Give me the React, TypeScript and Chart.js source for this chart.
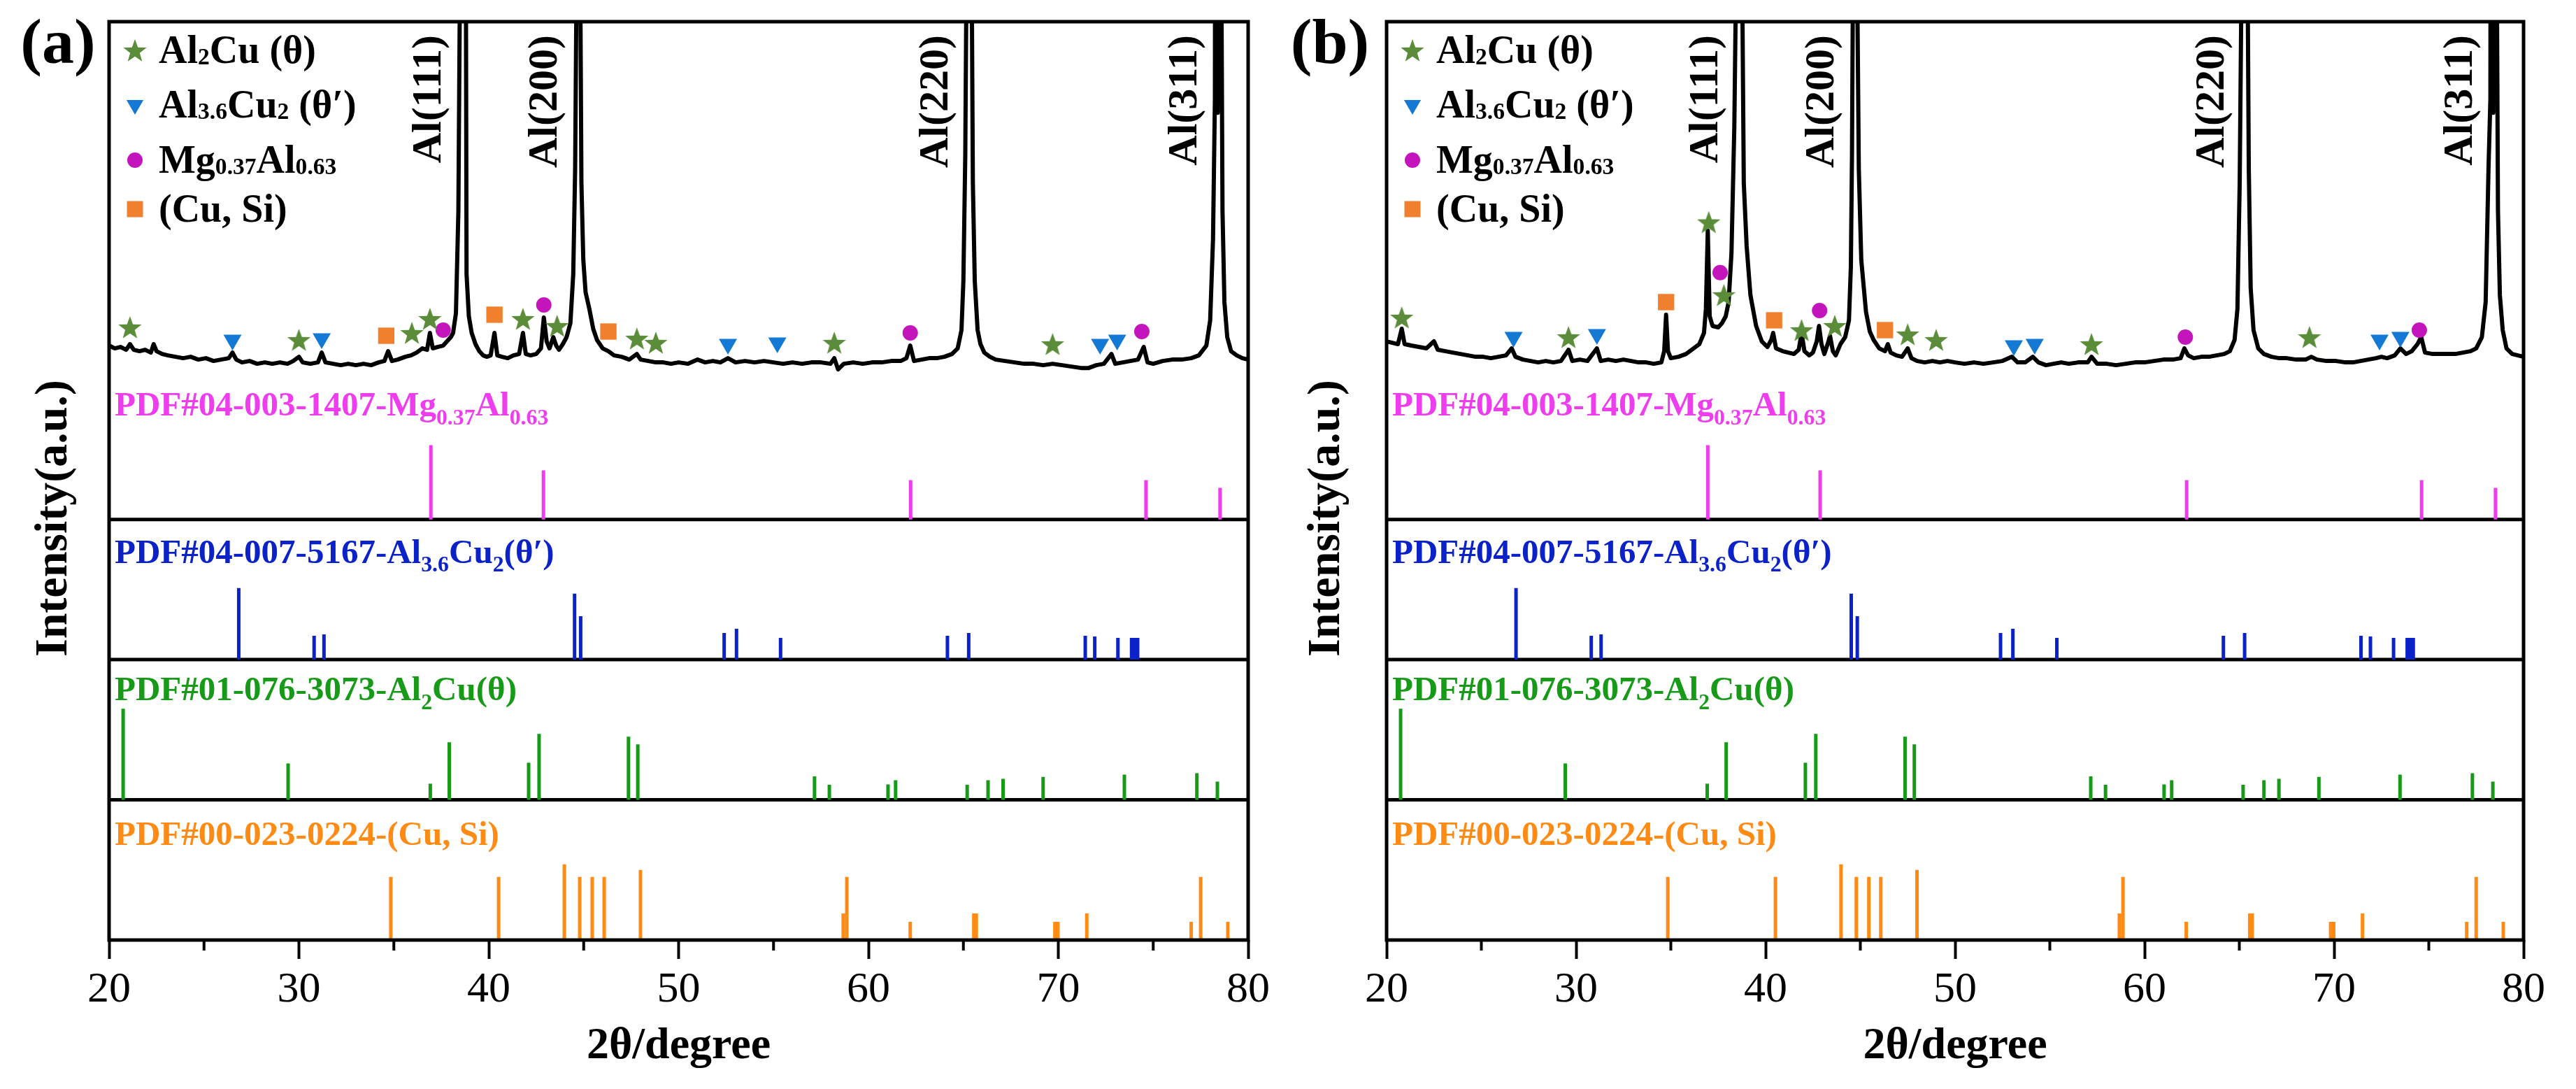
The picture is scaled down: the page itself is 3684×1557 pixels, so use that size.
import React, { useEffect, useRef } from 'react';
import { Chart, registerables } from 'chart.js';

Chart.register(...registerables);

// ---------------- data ----------------
type Pt = [number, number];
type Seg = { t: string; sub?: boolean };

const TWO_THETA_MIN = 20;
const TWO_THETA_MAX = 80;
const MAJOR_STEP = 10;
const MINOR_TICKS = [25, 35, 45, 55, 65, 75];

const AL_PEAKS = [38.62, 44.72, 65.3, 78.42];
const AL_PEAK_LABELS = ['Al(111)', 'Al(200)', 'Al(220)', 'Al(311)'];

// measured pattern (a): [2θ, intensity a.u.]
const XRD_A: Pt[] = [
  [20.0, 1.24], [20.3, 1.22], [20.6, 1.23], [20.9, 1.21], [21.1, 1.25], [21.3, 1.21], [21.6, 1.2], [21.9, 1.21],
  [22.2, 1.19], [22.35, 1.25], [22.5, 1.2], [22.8, 1.18], [23.1, 1.17], [23.5, 1.16], [23.9, 1.15], [24.3, 1.16],
  [24.7, 1.14], [25.1, 1.15], [25.5, 1.13], [25.9, 1.14], [26.3, 1.15], [26.5, 1.19], [26.7, 1.14], [27.0, 1.12],
  [27.4, 1.13], [27.8, 1.11], [28.2, 1.12], [28.6, 1.11], [29.0, 1.12], [29.4, 1.11], [29.7, 1.13], [30.0, 1.16],
  [30.2, 1.12], [30.6, 1.11], [31.0, 1.12], [31.2, 1.19], [31.4, 1.12], [31.8, 1.11], [32.2, 1.1], [32.6, 1.11],
  [33.0, 1.1], [33.4, 1.11], [33.8, 1.1], [34.2, 1.12], [34.5, 1.13], [34.7, 1.2], [34.9, 1.13], [35.2, 1.14],
  [35.6, 1.16], [35.9, 1.17], [36.2, 1.19], [36.5, 1.22], [36.75, 1.21], [36.9, 1.33], [37.05, 1.22], [37.3, 1.23],
  [37.6, 1.24], [37.8, 1.27], [38.0, 1.3], [38.12, 1.33], [38.27, 1.47], [38.4, 2.2], [38.47, 3.6], [38.55, 9.0],
  [38.72, 9.0], [38.8, 3.6], [38.83, 1.75], [38.95, 1.45], [39.1, 1.33], [39.3, 1.25], [39.5, 1.2], [39.7, 1.17],
  [39.9, 1.16], [40.1, 1.17], [40.3, 1.33], [40.45, 1.17], [40.7, 1.16], [41.0, 1.15], [41.3, 1.17], [41.6, 1.18],
  [41.8, 1.33], [41.95, 1.18], [42.2, 1.17], [42.5, 1.18], [42.75, 1.22], [42.9, 1.44], [43.05, 1.27], [43.2, 1.22],
  [43.4, 1.3], [43.55, 1.24], [43.7, 1.21], [43.9, 1.25], [44.1, 1.3], [44.3, 1.4], [44.45, 1.75], [44.55, 2.5],
  [44.61, 3.6], [44.66, 9.0], [44.78, 9.0], [44.83, 3.6], [44.88, 2.4], [44.98, 1.85], [45.1, 1.62], [45.3, 1.5],
  [45.5, 1.36], [45.7, 1.28], [46.0, 1.22], [46.3, 1.2], [46.6, 1.17], [47.0, 1.16], [47.4, 1.14], [47.8, 1.18],
  [48.0, 1.14], [48.4, 1.13], [48.8, 1.12], [49.2, 1.12], [49.6, 1.11], [50.0, 1.12], [50.5, 1.11], [51.0, 1.14],
  [51.4, 1.12], [51.8, 1.13], [52.2, 1.12], [52.6, 1.15], [53.0, 1.12], [53.5, 1.13], [54.0, 1.12], [54.5, 1.13],
  [55.0, 1.12], [55.5, 1.11], [56.0, 1.12], [56.5, 1.11], [57.0, 1.12], [57.5, 1.12], [58.0, 1.11], [58.2, 1.15],
  [58.4, 1.07], [58.7, 1.11], [59.2, 1.12], [59.7, 1.11], [60.2, 1.12], [60.7, 1.12], [61.2, 1.13], [61.7, 1.13],
  [62.0, 1.15], [62.2, 1.24], [62.4, 1.13], [62.8, 1.14], [63.2, 1.15], [63.6, 1.15], [64.0, 1.16], [64.4, 1.18],
  [64.7, 1.22], [64.9, 1.35], [65.0, 1.7], [65.1, 2.6], [65.15, 3.6], [65.2, 9.0], [65.4, 9.0], [65.45, 3.6],
  [65.5, 2.4], [65.6, 1.7], [65.75, 1.35], [65.9, 1.25], [66.1, 1.19], [66.4, 1.16], [66.7, 1.14], [67.2, 1.13],
  [67.7, 1.12], [68.2, 1.11], [68.7, 1.11], [69.2, 1.1], [69.7, 1.11], [70.2, 1.1], [70.7, 1.09], [71.2, 1.08],
  [71.6, 1.08], [72.0, 1.1], [72.4, 1.11], [72.8, 1.18], [73.0, 1.11], [73.4, 1.12], [73.8, 1.13], [74.2, 1.14],
  [74.5, 1.23], [74.7, 1.12], [75.0, 1.11], [75.5, 1.13], [76.0, 1.14], [76.5, 1.14], [77.0, 1.15], [77.4, 1.17],
  [77.8, 1.24], [78.0, 1.42], [78.15, 2.0], [78.25, 3.0], [78.3, 9.0], [78.4, 2.9], [78.5, 9.0], [78.6, 3.6],
  [78.65, 2.2], [78.75, 1.55], [78.9, 1.3], [79.1, 1.2], [79.4, 1.17], [79.7, 1.15], [80.0, 1.14],
];

// measured pattern (b)
const XRD_B: Pt[] = [
  [20.0, 1.27], [20.3, 1.26], [20.6, 1.25], [20.8, 1.36], [20.95, 1.25], [21.3, 1.24], [21.7, 1.23], [22.1, 1.22],
  [22.5, 1.27], [22.7, 1.21], [23.1, 1.2], [23.5, 1.19], [23.9, 1.18], [24.3, 1.17], [24.7, 1.16], [25.1, 1.16],
  [25.5, 1.15], [25.9, 1.16], [26.3, 1.17], [26.6, 1.22], [26.8, 1.16], [27.2, 1.14], [27.6, 1.13], [28.0, 1.12],
  [28.4, 1.13], [28.8, 1.12], [29.2, 1.13], [29.6, 1.21], [29.8, 1.13], [30.2, 1.14], [30.6, 1.13], [31.1, 1.22],
  [31.3, 1.13], [31.7, 1.14], [32.1, 1.13], [32.5, 1.14], [32.9, 1.13], [33.3, 1.12], [33.7, 1.12], [34.1, 1.11],
  [34.5, 1.12], [34.65, 1.2], [34.75, 1.46], [34.85, 1.2], [35.0, 1.15], [35.4, 1.16], [35.8, 1.18], [36.2, 1.22],
  [36.5, 1.25], [36.75, 1.33], [36.85, 1.5], [36.95, 2.06], [37.05, 1.45], [37.2, 1.38], [37.5, 1.37], [37.7, 1.4],
  [37.9, 1.45], [38.05, 1.55], [38.2, 1.9], [38.35, 2.8], [38.42, 3.6], [38.5, 9.0], [38.7, 9.0], [38.78, 3.6],
  [38.85, 2.4], [39.0, 1.95], [39.2, 1.6], [39.5, 1.38], [39.8, 1.27], [40.1, 1.23], [40.3, 1.28], [40.4, 1.33],
  [40.55, 1.22], [40.9, 1.2], [41.2, 1.19], [41.5, 1.18], [41.75, 1.21], [41.9, 1.33], [42.05, 1.2], [42.3, 1.17],
  [42.5, 1.19], [42.7, 1.27], [42.82, 1.38], [42.95, 1.25], [43.1, 1.18], [43.3, 1.26], [43.4, 1.31], [43.55, 1.2],
  [43.7, 1.17], [43.95, 1.25], [44.2, 1.3], [44.4, 1.42], [44.5, 1.8], [44.56, 2.6], [44.6, 3.6], [44.66, 9.0],
  [44.8, 9.0], [44.85, 3.6], [44.92, 2.5], [45.05, 1.85], [45.3, 1.48], [45.5, 1.34], [45.7, 1.28], [46.0, 1.22],
  [46.3, 1.2], [46.45, 1.25], [46.6, 1.19], [46.9, 1.17], [47.2, 1.16], [47.5, 1.22], [47.7, 1.15], [48.0, 1.13],
  [48.4, 1.12], [48.8, 1.13], [49.2, 1.12], [49.6, 1.13], [50.0, 1.12], [50.5, 1.11], [51.0, 1.12], [51.5, 1.11],
  [52.0, 1.12], [52.5, 1.13], [53.0, 1.16], [53.3, 1.12], [53.7, 1.12], [54.1, 1.16], [54.4, 1.12], [54.8, 1.1],
  [55.2, 1.11], [55.6, 1.12], [56.0, 1.11], [56.5, 1.12], [57.0, 1.12], [57.2, 1.16], [57.5, 1.11], [58.0, 1.11],
  [58.5, 1.1], [59.0, 1.11], [59.5, 1.12], [60.0, 1.12], [60.5, 1.13], [61.0, 1.14], [61.5, 1.14], [61.9, 1.15],
  [62.1, 1.22], [62.3, 1.17], [62.6, 1.15], [63.0, 1.16], [63.4, 1.16], [63.8, 1.17], [64.2, 1.18], [64.5, 1.2],
  [64.75, 1.28], [64.9, 1.5], [65.02, 2.4], [65.1, 3.6], [65.16, 9.0], [65.38, 9.0], [65.45, 3.6], [65.5, 2.5],
  [65.6, 1.65], [65.75, 1.35], [66.0, 1.22], [66.3, 1.18], [66.7, 1.16], [67.1, 1.15], [67.5, 1.15], [68.0, 1.14],
  [68.5, 1.14], [68.8, 1.16], [69.1, 1.14], [69.6, 1.13], [70.1, 1.13], [70.6, 1.12], [71.0, 1.12], [71.4, 1.13],
  [71.8, 1.14], [72.2, 1.15], [72.5, 1.16], [72.8, 1.15], [73.2, 1.17], [73.5, 1.22], [73.8, 1.18], [74.1, 1.2],
  [74.4, 1.25], [74.6, 1.3], [74.8, 1.19], [75.2, 1.18], [75.6, 1.18], [76.0, 1.18], [76.4, 1.18], [76.8, 1.19],
  [77.2, 1.2], [77.5, 1.22], [77.8, 1.3], [78.0, 1.55], [78.15, 2.5], [78.25, 3.0], [78.3, 9.0], [78.4, 2.9],
  [78.5, 9.0], [78.6, 3.6], [78.65, 2.2], [78.75, 1.6], [78.9, 1.35], [79.1, 1.22], [79.4, 1.18], [79.7, 1.17],
  [80.0, 1.16],
];

// phase markers on the measured patterns: [2θ, intensity a.u.]
const STAR_A: Pt[] = [[21.1, 1.37], [30.0, 1.28], [35.95, 1.33], [36.9, 1.43], [41.8, 1.43], [43.6, 1.38], [47.8, 1.29], [48.8, 1.26], [58.2, 1.26], [69.7, 1.25]];
const TRI_A: Pt[] = [[26.5, 1.28], [31.2, 1.29], [52.6, 1.25], [55.2, 1.26], [72.2, 1.25], [73.1, 1.28]];
const CIRC_A: Pt[] = [[37.6, 1.35], [42.9, 1.53], [62.2, 1.33], [74.4, 1.34]];
const SQ_A: Pt[] = [[34.6, 1.31], [40.3, 1.46], [46.3, 1.34]];

const STAR_B: Pt[] = [[20.8, 1.44], [29.6, 1.3], [37.0, 2.12], [37.8, 1.6], [41.9, 1.35], [43.65, 1.38], [47.5, 1.32], [49.0, 1.28], [57.2, 1.25], [68.7, 1.3]];
const TRI_B: Pt[] = [[26.7, 1.3], [31.1, 1.32], [53.1, 1.24], [54.2, 1.25], [72.4, 1.28], [73.5, 1.3]];
const CIRC_B: Pt[] = [[37.6, 1.76], [42.85, 1.49], [62.15, 1.3], [74.5, 1.35]];
const SQ_B: Pt[] = [[34.75, 1.55], [40.45, 1.42], [46.3, 1.35]];

// reference cards (stick patterns), relative intensity
const MGAL_2THETA = [36.95, 42.88, 62.22, 74.62, 78.52];
const MGAL_INT = [0.53, 0.35, 0.28, 0.28, 0.225];

const AL36CU2_2THETA = [26.83, 30.8, 31.32, 44.52, 44.84, 52.4, 53.05, 55.37, 64.16, 65.28, 71.42, 71.92, 73.14, 73.86, 74.02, 74.18];
const AL36CU2_INT = [0.51, 0.17, 0.18, 0.47, 0.31, 0.19, 0.22, 0.155, 0.17, 0.19, 0.17, 0.165, 0.155, 0.155, 0.155, 0.155];

const AL2CU_2THETA = [20.74, 29.43, 36.92, 37.92, 42.1, 42.65, 47.36, 47.85, 57.16, 57.94, 61.03, 61.43, 65.2, 66.3, 67.09, 69.2, 73.48, 77.3, 78.38];
const AL2CU_INT = [0.65, 0.26, 0.115, 0.41, 0.265, 0.47, 0.45, 0.395, 0.167, 0.107, 0.11, 0.14, 0.107, 0.14, 0.15, 0.163, 0.18, 0.19, 0.13];

const CUSI_2THETA = [34.84, 40.52, 43.98, 44.79, 45.45, 46.08, 47.99, 58.67, 58.86, 62.2, 65.55, 65.68, 69.82, 69.98, 71.5, 77.0, 77.5, 78.93];
const CUSI_INT = [0.45, 0.45, 0.54, 0.45, 0.45, 0.45, 0.5, 0.19, 0.45, 0.13, 0.19, 0.19, 0.13, 0.13, 0.19, 0.13, 0.45, 0.13];

// ---------------- layout / style ----------------
const H = 1557;
const PLOT_TOP = 31;
const PLOT_BOTTOM = 1344;
const Y_MAX = 6.55;
const XRD_OFFSET = 3;
const BAND_EDGES = [1, 2, 3];
const FAMILY = '"Liberation Serif", "Times New Roman", serif';

const STAR_COLOR = '#5b8c3a';
const TRI_COLOR = '#1479d4';
const CIRC_COLOR = '#c414bc';
const SQ_COLOR = '#f0802e';

const MG_COLOR = '#ee3cee';
const BLUE_COLOR = '#0b22c8';
const GREEN_COLOR = '#169a18';
const ORANGE_COLOR = '#ff8a14';

type PanelCfg = {
  left: number; width: number; plotLeft: number; plotRight: number;
  letter: string; letterDX: number; yTitleDX: number;
  xrd: Pt[]; star: Pt[]; tri: Pt[]; circ: Pt[]; sq: Pt[];
};

const PANELS: PanelCfg[] = [
  { left: 0, width: 1827, plotLeft: 156, plotRight: 1785, letter: '(a)', letterDX: -73, yTitleDX: -78,
    xrd: XRD_A, star: STAR_A, tri: TRI_A, circ: CIRC_A, sq: SQ_A },
  { left: 1827, width: 1857, plotLeft: 156, plotRight: 1782, letter: '(b)', letterDX: -81, yTitleDX: -85,
    xrd: XRD_B, star: STAR_B, tri: TRI_B, circ: CIRC_B, sq: SQ_B },
];

const LEGEND: { kind: string; segs: Seg[] }[] = [
  { kind: 'star', segs: [{ t: 'Al' }, { t: '2', sub: true }, { t: 'Cu (θ)' }] },
  { kind: 'tri', segs: [{ t: 'Al' }, { t: '3.6', sub: true }, { t: 'Cu' }, { t: '2', sub: true }, { t: ' (θ′)' }] },
  { kind: 'circ', segs: [{ t: 'Mg' }, { t: '0.37', sub: true }, { t: 'Al' }, { t: '0.63', sub: true }] },
  { kind: 'sq', segs: [{ t: '(Cu, Si)' }] },
];
const LEGEND_ROWS = [41, 119, 198, 268];

const CARD_LABELS: { segs: Seg[]; color: string; yCenter: number }[] = [
  { segs: [{ t: 'PDF#04-003-1407-Mg' }, { t: '0.37', sub: true }, { t: 'Al' }, { t: '0.63', sub: true }], color: MG_COLOR, yCenter: 3.82 },
  { segs: [{ t: 'PDF#04-007-5167-Al' }, { t: '3.6', sub: true }, { t: 'Cu' }, { t: '2', sub: true }, { t: '(θ′)' }], color: BLUE_COLOR, yCenter: 2.77 },
  { segs: [{ t: 'PDF#01-076-3073-Al' }, { t: '2', sub: true }, { t: 'Cu(θ)' }], color: GREEN_COLOR, yCenter: 1.79 },
  { segs: [{ t: 'PDF#00-023-0224-(Cu, Si)' }], color: ORANGE_COLOR, yCenter: 0.76 },
];

let starImg: HTMLCanvasElement | null = null;
function getStar(): HTMLCanvasElement {
  if (starImg) return starImg;
  const size = 36;
  const c = document.createElement('canvas');
  c.width = size; c.height = size;
  const g = c.getContext('2d')!;
  const R = 17.5, r = 7.2, cx = size / 2, cy = size / 2 + 1.5;
  g.beginPath();
  for (let i = 0; i < 10; i++) {
    const a = -Math.PI / 2 + (i * Math.PI) / 5;
    const rad = i % 2 === 0 ? R : r;
    g.lineTo(cx + rad * Math.cos(a), cy + rad * Math.sin(a));
  }
  g.closePath();
  g.fillStyle = STAR_COLOR;
  g.fill();
  starImg = c;
  return c;
}

function drawRich(ctx: CanvasRenderingContext2D, segs: Seg[], x: number, yBase: number, size: number,
  color: string, subScale: number, subDrop: number) {
  ctx.fillStyle = color;
  ctx.textAlign = 'left';
  ctx.textBaseline = 'alphabetic';
  let cx = x;
  for (const s of segs) {
    const fs = s.sub ? size * subScale : size;
    ctx.font = `bold ${fs}px ${FAMILY}`;
    ctx.fillText(s.t, cx, yBase + (s.sub ? size * subDrop : 0));
    cx += ctx.measureText(s.t).width;
  }
}

function drawMarker(ctx: CanvasRenderingContext2D, kind: string, x: number, y: number) {
  ctx.save();
  if (kind === 'star') {
    const img = getStar();
    ctx.drawImage(img, x - img.width / 2, y - img.height / 2);
  } else if (kind === 'tri') {
    const r = 14;
    ctx.beginPath();
    ctx.moveTo(x, y + r);
    ctx.lineTo(x - r * 0.866, y - r * 0.5);
    ctx.lineTo(x + r * 0.866, y - r * 0.5);
    ctx.closePath();
    ctx.fillStyle = TRI_COLOR; ctx.fill();
  } else if (kind === 'circ') {
    ctx.beginPath(); ctx.arc(x, y, 11, 0, Math.PI * 2);
    ctx.fillStyle = CIRC_COLOR; ctx.fill();
  } else {
    ctx.fillStyle = SQ_COLOR; ctx.fillRect(x - 11.5, y - 11.5, 23, 23);
  }
  ctx.restore();
}

const toXY = (pts: Pt[], offset: number) => pts.map(([x, y]) => ({ x, y: y + offset }));
const toSticks = (pos: number[], ints: number[], base: number) =>
  pos.flatMap((p, i) => [{ x: p, y: base }, { x: p, y: base + ints[i] }, { x: p, y: null as any }]);

function buildConfig(p: PanelCfg): any {
  const stickDS = (pos: number[], ints: number[], base: number, color: string) => ({
    data: toSticks(pos, ints, base), borderColor: color, borderWidth: 5, borderCapStyle: 'butt',
    pointRadius: 0, spanGaps: false, order: 4, clip: false,
  });
  const markerDS = (pts: Pt[], style: any, color: string, radius: number, rotation = 0) => ({
    data: toXY(pts, XRD_OFFSET), showLine: false, pointStyle: style, pointRadius: radius,
    pointRotation: rotation, pointBackgroundColor: color, pointBorderColor: color, pointBorderWidth: 0,
    order: 0, clip: false,
  });
  const sepData = BAND_EDGES.flatMap((y) => [
    { x: TWO_THETA_MIN, y }, { x: TWO_THETA_MAX, y }, { x: TWO_THETA_MAX, y: null as any },
  ]);

  const decor = {
    id: 'decor' + p.letter,
    afterDraw(chart: any) {
      const { ctx, chartArea } = chart;
      const { left, right, top, bottom } = chartArea;
      const xs = chart.scales.x, ys = chart.scales.y;
      ctx.save();
      // frame
      ctx.strokeStyle = '#000';
      ctx.lineWidth = 5;
      ctx.strokeRect(left, top, right - left, bottom - top);
      // minor ticks
      ctx.lineWidth = 4;
      for (const v of MINOR_TICKS) {
        const px = xs.getPixelForValue(v);
        ctx.beginPath(); ctx.moveTo(px, bottom); ctx.lineTo(px, bottom + 15); ctx.stroke();
      }
      // Al peak labels
      ctx.fillStyle = '#000';
      ctx.font = `bold 60px ${FAMILY}`;
      AL_PEAKS.forEach((pk, i) => {
        const px = xs.getPixelForValue(pk - 1.72);
        ctx.save();
        ctx.translate(px, top + 19);
        ctx.rotate(-Math.PI / 2);
        ctx.textAlign = 'right';
        ctx.textBaseline = 'middle';
        ctx.fillText(AL_PEAK_LABELS[i], 0, 0);
        ctx.restore();
      });
      // legend
      LEGEND.forEach((item, i) => {
        const cy = top + LEGEND_ROWS[i];
        drawMarker(ctx, item.kind, left + 37, cy);
        drawRich(ctx, item.segs, left + 71, cy + 0.33 * 56, 56, '#000', 0.6, 0.02);
      });
      // card labels
      CARD_LABELS.forEach((c) => {
        const cy = ys.getPixelForValue(c.yCenter);
        drawRich(ctx, c.segs, left + 8, cy + 0.33 * 49, 49, c.color, 0.65, 0.25);
      });
      // panel letter
      ctx.fillStyle = '#000';
      ctx.font = `bold 92px ${FAMILY}`;
      ctx.textAlign = 'center';
      ctx.textBaseline = 'middle';
      ctx.fillText(p.letter, left + p.letterDX, 66);
      // y title
      ctx.save();
      ctx.translate(left + p.yTitleDX, 741);
      ctx.rotate(-Math.PI / 2);
      ctx.font = `bold 66px ${FAMILY}`;
      ctx.textAlign = 'center';
      ctx.textBaseline = 'middle';
      ctx.fillText('Intensity(a.u.)', 0, 0);
      ctx.restore();
      ctx.restore();
    },
  };

  return {
    type: 'line',
    data: {
      datasets: [
        { data: sepData, borderColor: '#000', borderWidth: 5, pointRadius: 0, spanGaps: false, order: 5, clip: false },
        stickDS(MGAL_2THETA, MGAL_INT, 3, MG_COLOR),
        stickDS(AL36CU2_2THETA, AL36CU2_INT, 2, BLUE_COLOR),
        stickDS(AL2CU_2THETA, AL2CU_INT, 1, GREEN_COLOR),
        stickDS(CUSI_2THETA, CUSI_INT, 0, ORANGE_COLOR),
        { data: toXY(p.xrd, XRD_OFFSET), borderColor: '#000', borderWidth: 6, borderJoinStyle: 'round',
          pointRadius: 0, order: 3, clip: 0 },
        markerDS(p.star, getStar(), STAR_COLOR, 17),
        markerDS(p.tri, 'triangle', TRI_COLOR, 15, 180),
        markerDS(p.circ, 'circle', CIRC_COLOR, 11),
        markerDS(p.sq, 'rect', SQ_COLOR, 16.5),
      ],
    },
    options: {
      responsive: false,
      animation: false,
      devicePixelRatio: 1,
      events: [],
      layout: { padding: { left: p.plotLeft, right: p.width - p.plotRight, top: PLOT_TOP, bottom: 0 } },
      plugins: { legend: { display: false }, tooltip: { enabled: false }, title: { display: false } },
      scales: {
        x: {
          type: 'linear', min: TWO_THETA_MIN, max: TWO_THETA_MAX,
          ticks: { stepSize: MAJOR_STEP, color: '#000', font: { family: FAMILY, size: 62 }, padding: 8, maxRotation: 0, autoSkip: false },
          grid: { display: true, drawOnChartArea: false, drawTicks: true, tickLength: 27, tickWidth: 4, tickColor: '#000' },
          border: { display: false },
          title: { display: true, text: '2θ/degree', color: '#000', font: { family: FAMILY, size: 64, weight: 'bold' }, padding: { top: 0, bottom: 22 } },
          afterFit: (s: any) => { s.height = H - PLOT_BOTTOM; },
        },
        y: { type: 'linear', min: 0, max: Y_MAX, display: false },
      },
    },
    plugins: [decor],
  };
}

function Panel({ cfg }: { cfg: PanelCfg }) {
  const ref = useRef<HTMLCanvasElement>(null);
  useEffect(() => {
    const chart = new Chart(ref.current!, buildConfig(cfg));
    return () => chart.destroy();
  }, [cfg]);
  return (
    <canvas ref={ref} width={cfg.width} height={H}
      style={{ position: 'absolute', left: cfg.left, top: 0, width: cfg.width, height: H }} />
  );
}

export default function App() {
  return (
    <div style={{ position: 'absolute', left: 0, top: 0, width: 3684, height: H, background: '#fff', overflow: 'hidden' }}>
      {PANELS.map((p) => <Panel key={p.letter} cfg={p} />)}
    </div>
  );
}
